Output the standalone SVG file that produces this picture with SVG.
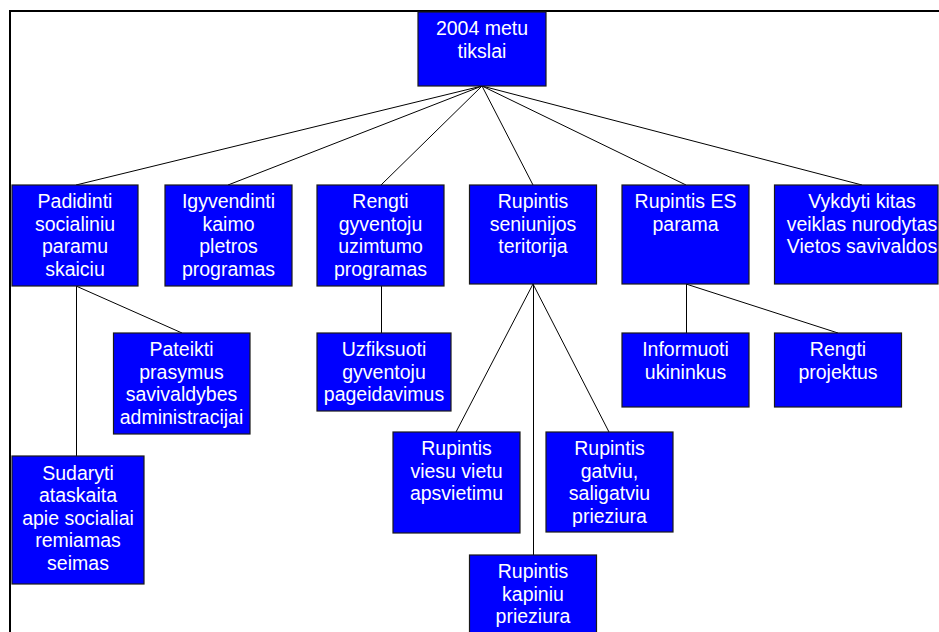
<svg xmlns="http://www.w3.org/2000/svg" width="939" height="632" viewBox="0 0 939 632">
  <style>
    .box { fill: #0000ff; stroke: #1a1a1a; stroke-width: 1.2; }
    .lbl { fill: #ffffff; font-family: "Liberation Sans", Arial, sans-serif; font-size: 19.5px; text-anchor: middle; }
    .link { stroke: #000000; stroke-width: 1; fill: none; }
    .frame { stroke: #000000; stroke-width: 2; fill: none; }
  </style>
  <rect x="0" y="0" width="939" height="632" fill="#ffffff"/>
  <!-- page frame -->
  <path class="frame" d="M10,632 V11 H939"/>

  <g id="connectors">
    <line class="link" x1="482" y1="86" x2="76" y2="185"/>
    <line class="link" x1="482" y1="86" x2="228" y2="185"/>
    <line class="link" x1="482" y1="86" x2="381" y2="185"/>
    <line class="link" x1="482" y1="86" x2="533" y2="185"/>
    <line class="link" x1="482" y1="86" x2="686" y2="185"/>
    <line class="link" x1="482" y1="86" x2="862" y2="185"/>
    <line class="link" x1="76" y1="286" x2="182" y2="333"/>
    <line class="link" x1="76.5" y1="286" x2="76.5" y2="456"/>
    <line class="link" x1="381.5" y1="286" x2="381.5" y2="333"/>
    <line class="link" x1="533" y1="284" x2="456" y2="432"/>
    <line class="link" x1="533" y1="284" x2="609" y2="432"/>
    <line class="link" x1="533.5" y1="284" x2="533.5" y2="555"/>
    <line class="link" x1="686.5" y1="284" x2="686.5" y2="333"/>
    <line class="link" x1="686" y1="284" x2="838" y2="333"/>
  </g>

  <g id="root">
    <rect class="box" x="418" y="12" width="128" height="74"/>
    <text class="lbl" x="482" y="35">2004 metu</text>
    <text class="lbl" x="482" y="58">tikslai</text>
  </g>

  <g id="padidinti">
    <rect class="box" x="12" y="185" width="126" height="101"/>
    <text class="lbl" x="75" y="208">Padidinti</text>
    <text class="lbl" x="75" y="230.5">socialiniu</text>
    <text class="lbl" x="75" y="253">paramu</text>
    <text class="lbl" x="75" y="275.5">skaiciu</text>
  </g>

  <g id="igyvendinti">
    <rect class="box" x="165" y="185" width="127" height="101"/>
    <text class="lbl" x="228.5" y="208">Igyvendinti</text>
    <text class="lbl" x="228.5" y="230.5">kaimo</text>
    <text class="lbl" x="228.5" y="253">pletros</text>
    <text class="lbl" x="228.5" y="275.5">programas</text>
  </g>

  <g id="rengti-uzimtumo">
    <rect class="box" x="317" y="185" width="127" height="101"/>
    <text class="lbl" x="380.5" y="208">Rengti</text>
    <text class="lbl" x="380.5" y="230.5">gyventoju</text>
    <text class="lbl" x="380.5" y="253">uzimtumo</text>
    <text class="lbl" x="380.5" y="275.5">programas</text>
  </g>

  <g id="seniunijos">
    <rect class="box" x="469.5" y="185" width="127" height="99"/>
    <text class="lbl" x="533" y="208">Rupintis</text>
    <text class="lbl" x="533" y="230.5">seniunijos</text>
    <text class="lbl" x="533" y="253">teritorija</text>
  </g>

  <g id="es-parama">
    <rect class="box" x="622" y="185" width="127" height="99"/>
    <text class="lbl" x="685.5" y="208">Rupintis ES</text>
    <text class="lbl" x="685.5" y="230.5">parama</text>
  </g>

  <g id="vykdyti">
    <rect class="box" x="774.5" y="185" width="163.5" height="99"/>
    <text class="lbl" x="862" y="208">Vykdyti kitas</text>
    <text class="lbl" x="862" y="230.5">veiklas nurodytas</text>
    <text class="lbl" x="862" y="253">Vietos savivaldos</text>
  </g>

  <g id="pateikti">
    <rect class="box" x="113.5" y="333" width="136.5" height="101"/>
    <text class="lbl" x="181.5" y="356">Pateikti</text>
    <text class="lbl" x="181.5" y="378.5">prasymus</text>
    <text class="lbl" x="181.5" y="401">savivaldybes</text>
    <text class="lbl" x="181.5" y="423.5">administracijai</text>
  </g>

  <g id="uzfiksuoti">
    <rect class="box" x="317" y="333" width="134" height="78"/>
    <text class="lbl" x="384" y="356">Uzfiksuoti</text>
    <text class="lbl" x="384" y="378.5">gyventoju</text>
    <text class="lbl" x="384" y="401">pageidavimus</text>
  </g>

  <g id="sudaryti">
    <rect class="box" x="12" y="456" width="132" height="128"/>
    <text class="lbl" x="78" y="479.5">Sudaryti</text>
    <text class="lbl" x="78" y="502">ataskaita</text>
    <text class="lbl" x="78" y="524.5">apie socialiai</text>
    <text class="lbl" x="78" y="547">remiamas</text>
    <text class="lbl" x="78" y="569.5">seimas</text>
  </g>

  <g id="informuoti">
    <rect class="box" x="622" y="333" width="127" height="74"/>
    <text class="lbl" x="685.5" y="356">Informuoti</text>
    <text class="lbl" x="685.5" y="378.5">ukininkus</text>
  </g>

  <g id="rengti-projektus">
    <rect class="box" x="774.5" y="333" width="127" height="74"/>
    <text class="lbl" x="838" y="356">Rengti</text>
    <text class="lbl" x="838" y="378.5">projektus</text>
  </g>

  <g id="viesu-vietu">
    <rect class="box" x="393" y="432" width="127" height="101"/>
    <text class="lbl" x="456.5" y="455">Rupintis</text>
    <text class="lbl" x="456.5" y="477.5">viesu vietu</text>
    <text class="lbl" x="456.5" y="500">apsvietimu</text>
  </g>

  <g id="gatviu">
    <rect class="box" x="546" y="432" width="127" height="100"/>
    <text class="lbl" x="609.5" y="455">Rupintis</text>
    <text class="lbl" x="609.5" y="477.5">gatviu,</text>
    <text class="lbl" x="609.5" y="500">saligatviu</text>
    <text class="lbl" x="609.5" y="522.5">prieziura</text>
  </g>

  <g id="kapiniu">
    <rect class="box" x="469.5" y="555" width="127" height="90"/>
    <text class="lbl" x="533" y="578">Rupintis</text>
    <text class="lbl" x="533" y="600.5">kapiniu</text>
    <text class="lbl" x="533" y="623">prieziura</text>
  </g>
</svg>
